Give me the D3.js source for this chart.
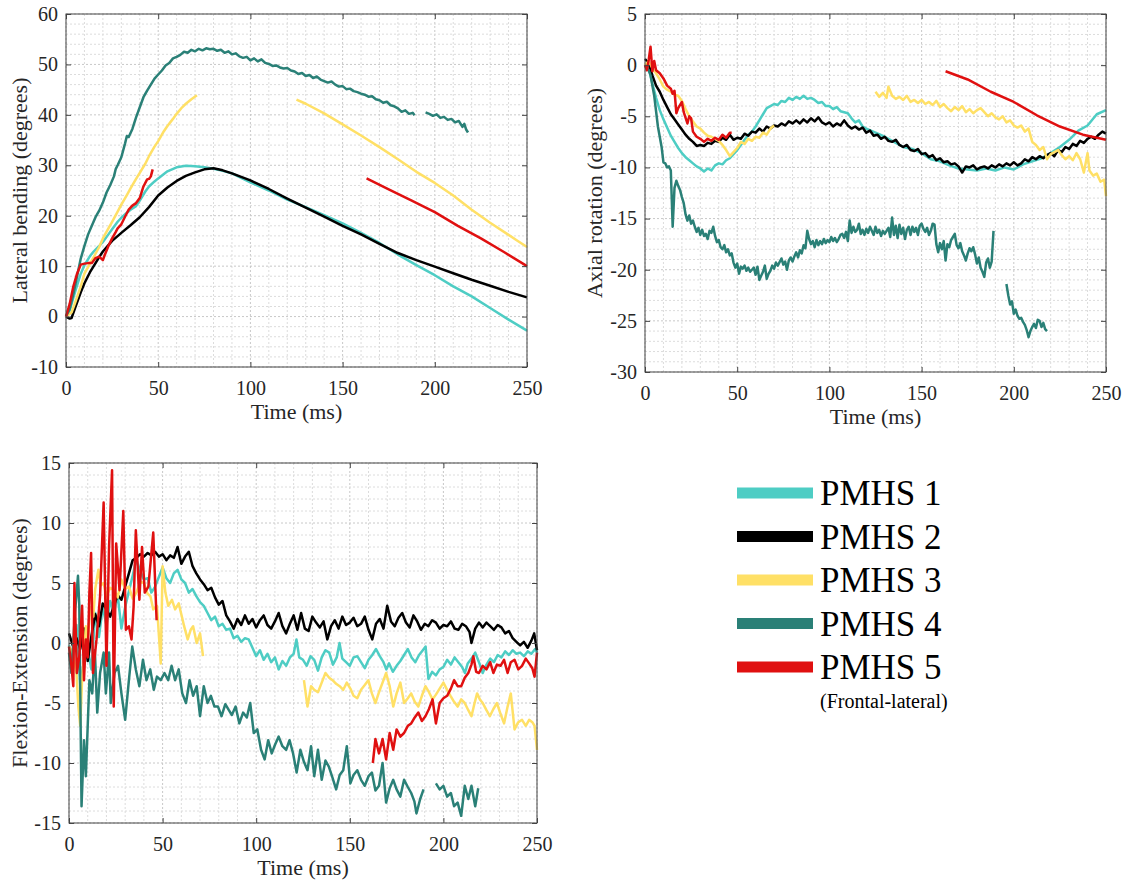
<!DOCTYPE html>
<html>
<head>
<meta charset="utf-8">
<script src="https://cdnjs.cloudflare.com/ajax/libs/d3/7.8.5/d3.min.js"></script>
<style>
  body { margin: 0; background: #fff; }
  svg { display: block; font-family: "Liberation Serif", "Times New Roman", serif; }
</style>
</head>
<body>
<svg id="chart" width="1129" height="884"></svg>
<script>
'use strict';

// ---- data (time in ms, angle in degrees; null = gap in the record) ----
const names = ['PMHS 1', 'PMHS 2', 'PMHS 3', 'PMHS 4', 'PMHS 5'];
const colors = ['#4ECDC4', '#000000', '#FFE066', '#2A8077', '#E01010'];
const timeTicks = [0, 50, 100, 150, 200, 250];

// Lateral bending
const lat1 = [[0,0],[2,1.2],[5,5],[8,8.5],[10,10.2],[13,12],[15,12.9],[18,14],[20,14.8],[23,16.3],[25,17.3],[28,18.8],[30,19.6],[33,20.6],[35,21.2],[38,21.9],[40,23],[43,24.8],[45,25.8],[48,26.8],[50,27.4],[55,28.8],[60,29.6],[65,29.9],[70,29.8],[75,29.6],[80,29.3],[85,28.9],[90,28.4],[95,27.5],[100,26.6],[110,25],[120,23.2],[130,21.7],[140,20.1],[150,18.5],[160,16.6],[170,14.6],[180,12.3],[190,10.2],[200,8.2],[210,6],[220,4],[230,1.7],[240,-0.6],[250,-2.8]];
const lat2 = [[0,0],[1,-0.2],[2,-0.4],[3,-0.3],[5,1.8],[8,4.8],[10,6.6],[13,8.8],[15,10],[18,11.8],[20,12.9],[25,15],[30,16.6],[35,18.1],[40,19.7],[45,21.7],[50,24],[55,25.6],[60,26.9],[65,27.9],[70,28.6],[75,29.2],[80,29.4],[85,29],[90,28.4],[95,27.7],[100,27],[110,25.3],[120,23.4],[130,21.6],[140,19.8],[150,18],[160,16.3],[170,14.4],[180,12.6],[190,11.2],[200,9.9],[210,8.6],[220,7.3],[230,6.1],[240,4.9],[250,3.8]];
const lat3 = [[0,0],[3,0.8],[5,2.8],[8,6],[10,8.5],[13,10.5],[15,11.8],[18,13.8],[20,15.5],[23,17.5],[25,18.8],[28,20.8],[30,22.2],[33,24.1],[35,25.4],[38,27.3],[40,28.5],[43,30.3],[45,31.8],[48,33.7],[50,34.8],[53,36.7],[55,37.8],[58,39.2],[60,40.2],[63,41.5],[65,42.2],[68,43.1],[71,43.9],[null,null],[125,43],[130,42.2],[140,40.3],[150,38.1],[160,35.9],[170,33.6],[180,31.2],[190,28.7],[200,26.5],[210,24],[220,21.2],[230,18.6],[240,16.2],[245,15],[250,13.8]];
const lat4 = [[0,0],[2,1.5],[4,4.5],[6,8],[8,11.5],[10,14],[12,16.3],[14,18],[16,19.7],[18,21],[20,22.6],[22,24.6],[24,26.1],[26,27.8],[27,29.3],[28,30],[30,31.6],[32,34.3],[33,35.8],[34,35.6],[36,37.2],[38,39.5],[40,41.5],[42,43.5],[44,44.8],[46,46],[48,47.2],[50,48],[52,48.8],[54,49.8],[56,50.3],[58,51.2],[60,51.5],[62,51.9],[64,52.5],[66,52.3],[68,52.9],[70,52.6],[72,53.1],[74,52.8],[76,53.2],[78,53],[80,53.1],[82,52.7],[84,52.9],[86,52.3],[88,52.6],[90,52],[92,52.2],[94,51.6],[96,51.3],[98,51.5],[100,50.8],[102,51.2],[104,50.6],[106,51],[108,50.3],[110,50.1],[112,49.7],[114,49.8],[116,49.4],[118,49.2],[120,49.3],[122,48.8],[124,48.6],[126,48.1],[128,48.3],[130,47.7],[132,47.9],[134,47.3],[136,47.6],[138,47],[140,46.7],[142,46.4],[144,46.6],[146,46],[148,45.6],[150,45.7],[152,45.1],[154,45.2],[156,44.7],[158,44.5],[160,44.2],[162,44],[164,43.6],[166,43.7],[168,43.1],[170,42.9],[172,42.4],[174,42.6],[176,41.9],[178,41.7],[180,41.3],[182,40.6],[184,40.9],[186,40.2],[188,40.4],[189,39.9],[null,null],[195,40.5],[197,40.2],[199,39.8],[201,40.1],[203,39.4],[205,39.6],[207,39],[209,39.2],[211,38.5],[213,38.8],[215,37.6],[216,38.2],[217,37.1],[218,36.5]];
const lat5 = [[0,0],[2,2.5],[4,6],[6,8.5],[8,10.3],[10,10.5],[12,10.6],[14,10.6],[16,11.6],[18,11.9],[20,11.2],[21,12.2],[23,14],[25,15.5],[27,16.8],[28,17.5],[30,18.3],[32,19.8],[34,21.2],[36,22],[38,22.5],[40,23.5],[42,25.8],[44,27.2],[45,27.3],[46,27.8],[47,29.2],[null,null],[163,27.4],[175,25.2],[187.5,23],[200,20.7],[212.5,18],[225,15.5],[237.5,12.8],[250,10]];

// Axial rotation
const rot1 = [[0,0],[2,-0.2],[4,-1.8],[6,-3.2],[8,-4.4],[10,-5.3],[12,-6.1],[14,-6.9],[16,-7.5],[18,-8.1],[20,-8.6],[22,-9],[24,-9.3],[26,-9.6],[28,-9.9],[30,-10.1],[32,-10.4],[34,-10.1],[36,-10.3],[38,-9.8],[40,-9.6],[42,-9.7],[44,-9.3],[46,-9.1],[48,-8.7],[50,-8.3],[52,-7.8],[54,-7.3],[56,-6.8],[58,-6.5],[60,-6],[62,-5.4],[64,-4.8],[66,-4.2],[68,-4],[70,-3.8],[72,-3.9],[74,-3.5],[76,-3.6],[78,-3.2],[80,-3.4],[82,-3.1],[84,-3.3],[86,-3],[88,-3.3],[90,-3.2],[92,-3.4],[94,-3.7],[96,-3.6],[98,-4],[100,-4],[102,-4.3],[104,-4.1],[106,-4.5],[108,-4.6],[110,-4.7],[112,-5.2],[114,-5.6],[116,-5.4],[118,-6],[120,-6.2],[125,-6.6],[130,-7],[135,-7.5],[140,-8],[145,-8.2],[150,-8.6],[155,-9.2],[160,-9.4],[165,-9.8],[170,-10.1],[175,-10.2],[180,-10.3],[185,-10.1],[190,-10.3],[195,-10],[200,-10.2],[205,-9.7],[210,-9.4],[215,-9.1],[220,-8.6],[225,-8],[230,-7.3],[235,-6.4],[240,-5.9],[245,-4.8],[250,-4.4]];
const rot2 = [[0,0.6],[2,0.2],[4,-1],[6,-2],[8,-2.6],[10,-3.4],[12,-4.1],[14,-4.8],[16,-5.3],[18,-5.8],[20,-6.3],[22,-6.8],[24,-7.2],[26,-7.5],[28,-7.9],[30,-7.8],[32,-7.9],[34,-7.6],[36,-7.7],[38,-7.4],[40,-7.5],[42,-7.1],[44,-7.3],[46,-6.8],[48,-7.3],[50,-7.1],[52,-7.2],[54,-6.7],[56,-6.9],[58,-6.5],[60,-6.6],[62,-6.2],[64,-6.5],[66,-6],[68,-6.2],[70,-5.9],[72,-6],[74,-5.7],[76,-5.9],[78,-5.5],[80,-5.7],[82,-5.4],[84,-5.7],[86,-5.3],[88,-5.6],[90,-5.2],[92,-5.5],[94,-5.1],[96,-5.6],[98,-5.8],[100,-5.6],[102,-6],[104,-5.7],[106,-5.9],[108,-5.4],[110,-5.9],[112,-6.2],[114,-6],[116,-6.3],[118,-6.1],[120,-6.6],[122,-6.4],[124,-6.9],[126,-6.8],[128,-7.2],[130,-7],[132,-7.4],[134,-7.5],[136,-7.3],[138,-7.8],[140,-8],[142,-7.8],[144,-8.3],[146,-8.4],[148,-8.2],[150,-8.7],[152,-8.6],[154,-9],[156,-8.8],[158,-9.3],[160,-9.1],[162,-9.5],[164,-9.4],[166,-9.7],[168,-9.6],[170,-9.9],[172,-10.5],[174,-9.9],[176,-10],[178,-9.8],[180,-10.2],[182,-10],[184,-9.9],[186,-10.1],[188,-9.8],[190,-10],[192,-9.7],[194,-9.9],[196,-9.6],[198,-9.8],[200,-9.5],[202,-9.8],[204,-9.6],[206,-9.2],[208,-9.4],[210,-9],[212,-9.2],[214,-8.9],[216,-9.1],[218,-8.8],[220,-8.6],[222,-8.9],[224,-8.3],[226,-8.5],[228,-8],[230,-8.2],[232,-7.7],[234,-7.9],[236,-7.4],[238,-7.6],[240,-7.2],[242,-7],[244,-7.2],[246,-6.8],[248,-6.5],[250,-6.7]];
const rot3 = [[0,0],[2,0.4],[4,-0.3],[6,-0.8],[8,-1.4],[10,-2.1],[12,-2.4],[14,-2.6],[16,-2.9],[18,-3],[20,-3.5],[22,-4.3],[24,-5],[26,-5.5],[28,-6],[30,-6.2],[32,-6.6],[34,-6.9],[36,-7],[38,-7.2],[40,-7.4],[42,-7.8],[44,-8.3],[46,-8.9],[48,-8.5],[50,-8.1],[52,-7.5],[54,-7.7],[56,-7.2],[58,-7.4],[60,-7],[62,-7.1],[64,-6.6],[66,-6.8],[68,-6.2],[70,-5.9],[null,null],[125,-2.6],[127,-3.1],[129,-2.7],[131,-3.2],[132,-2.1],[134,-3],[136,-3.3],[138,-3.1],[140,-3.4],[142,-3],[144,-3.6],[146,-3.4],[148,-3.7],[150,-3.4],[152,-3.8],[154,-3.6],[156,-3.9],[158,-3.5],[160,-4.1],[162,-3.8],[164,-4.2],[166,-4.5],[168,-4.1],[170,-4.4],[172,-4],[174,-4.6],[176,-4.3],[178,-4.7],[180,-4.4],[182,-4.2],[184,-4.6],[186,-5],[188,-4.7],[190,-5.1],[192,-5.3],[194,-5],[196,-5.6],[198,-5.4],[200,-5.9],[202,-6.1],[204,-5.9],[206,-6.5],[208,-6.2],[210,-7.5],[212,-7.8],[214,-8.3],[216,-8],[218,-9.2],[220,-8.7],[222,-8.5],[224,-8.3],[226,-8.8],[228,-9.2],[230,-8.9],[232,-9.3],[234,-8.6],[236,-9.2],[238,-10.5],[240,-8.6],[241,-10.3],[243,-10.8],[245,-10.6],[247,-11.4],[249,-11.2],[250,-12.8]];
const rot4 = [[0,0],[2,-0.5],[3,-1],[5,-3],[7,-6],[9,-8],[10,-9.5],[11,-9.6],[12,-10],[13,-9.9],[14,-10.3],[15,-15.8],[16,-12],[17,-11.3],[18,-11.8],[19,-12.2],[20,-12.9],[21,-13.5],[22,-14.6],[23,-15.2],[24,-14.7],[25,-15.5],[26,-15.2],[27,-15.8],[28,-16.3],[29,-15.9],[30,-16.6],[31,-16.1],[32,-16.7],[33,-16.5],[34,-17],[35,-16.2],[36,-16.4],[37,-15.8],[38,-16.7],[39,-17.3],[40,-17.1],[41,-17.8],[42,-18],[43,-17.6],[44,-18.3],[45,-18],[46,-18.6],[47,-18.4],[48,-19.3],[49,-19.8],[50,-19.4],[51,-20.4],[52,-19.7],[53,-19.9],[54,-19.6],[55,-20.1],[56,-19.8],[57,-20.2],[58,-20],[59,-19.8],[60,-20.5],[61,-19.7],[62,-21],[63,-20.6],[64,-20.2],[65,-19.6],[66,-20.9],[67,-20.4],[68,-20.1],[69,-19.6],[70,-19.9],[71,-19.3],[72,-19.6],[74,-18.9],[75,-19.5],[76,-19.2],[77,-20],[78,-19.1],[79,-18.8],[80,-19.2],[81,-18.7],[82,-18.3],[83,-18.8],[84,-18.1],[85,-18.4],[86,-17.6],[87,-17.9],[88,-16.2],[89,-17],[90,-17.5],[91,-17.2],[92,-17.8],[93,-17.1],[94,-17.6],[95,-17.2],[96,-17.5],[97,-17],[98,-17.4],[99,-17.1],[100,-17.3],[101,-16.8],[102,-17.2],[103,-16.9],[104,-17.3],[105,-17],[106,-16.6],[107,-16.5],[108,-16.9],[109,-16.3],[110,-17.2],[111,-15.2],[112,-16.4],[113,-15.8],[114,-16.3],[115,-16.1],[116,-15.5],[117,-16.5],[118,-16.1],[119,-16.6],[120,-16],[121,-16.4],[122,-15.8],[123,-16.2],[124,-16.6],[125,-15.8],[126,-16.4],[127,-16.1],[128,-16.7],[129,-16.2],[130,-16.5],[131,-16.2],[132,-15.9],[133,-16.8],[134,-14.9],[135,-16.6],[136,-15.7],[137,-16.9],[138,-15.6],[139,-16.5],[140,-15.9],[141,-17],[142,-16.1],[143,-15.8],[144,-16.6],[145,-15.8],[146,-16.3],[147,-15.9],[148,-16.6],[149,-15.7],[150,-15.5],[151,-16],[152,-16.3],[153,-15.9],[154,-16.6],[155,-16.2],[156,-15.5],[157,-15.6],[158,-17.5],[159,-18.3],[160,-17.4],[161,-18],[162,-17.2],[163,-19.1],[164,-17.5],[165,-17.8],[166,-17.1],[167,-16.8],[168,-16.5],[169,-17.6],[170,-17.9],[171,-17.4],[172,-18.2],[173,-18.6],[174,-19.1],[175,-18.4],[176,-17.9],[177,-18.2],[178,-17.8],[179,-18.5],[180,-19.4],[181,-18.8],[182,-19.8],[183,-20.2],[184,-20.7],[185,-19.3],[186,-18.9],[187,-19.8],[188,-19.2],[189,-16.2],[null,null],[196,-21.4],[197,-22.5],[198,-23.4],[199,-23.1],[200,-24.3],[201,-23.9],[202,-24.5],[203,-24.8],[204,-24.7],[205,-25.1],[206,-25.4],[207,-25.9],[208,-26.6],[209,-26],[210,-25.6],[211,-25.3],[212,-25.7],[213,-24.9],[214,-25],[215,-25.6],[216,-25.2],[217,-25.8],[218,-26]];
const rot5 = [[0,0],[1,-0.5],[2,0.5],[3,1.8],[4,-0.6],[5,0.4],[6,-0.5],[8,-0.8],[10,-1.3],[12,-2],[14,-2.3],[15,-2.8],[16,-2.5],[17,-4.7],[18,-4.2],[20,-3.6],[21,-4.6],[23,-5.7],[24,-5],[25,-5.2],[26,-6.5],[28,-7],[30,-7.2],[32,-7.5],[34,-7.2],[36,-7.4],[38,-7.1],[40,-7.3],[42,-6.8],[44,-7.1],[46,-6.6],[47,-6.6],[null,null],[163,-0.6],[175,-1.4],[187.5,-2.6],[200,-3.6],[212.5,-4.9],[225,-6],[237.5,-6.8],[250,-7.3]];

// Flexion-Extension
const fe1 = [[0,-0.2],[2,-1.3],[4,1.5],[6,-3.5],[8,-1.5],[10,-0.5],[12,-2.2],[14,2.5],[16,0.5],[18,3],[20,1.5],[22,3.5],[24,2.5],[26,4],[28,1.2],[30,3],[32,4.3],[34,5.6],[36,7],[38,6],[40,5.3],[42,5.4],[44,4.2],[46,4.7],[48,5.5],[50,6.3],[52,5.4],[54,5],[56,5.8],[58,6.1],[60,5.3],[62,5],[64,4.2],[66,4.5],[68,3.9],[70,3.4],[72,3.1],[74,2.5],[76,1.9],[78,2.2],[80,1.4],[82,1.6],[84,1.1],[86,1.2],[88,0.4],[90,0.6],[92,0.1],[94,0.4],[96,0.3],[98,-0.4],[100,-1.1],[102,-0.6],[104,-1.4],[106,-0.9],[108,-1.6],[110,-1.2],[112,-2.2],[114,-1.5],[116,-1.9],[118,-1.2],[120,-0.9],[121.5,0.3],[123,-1.2],[125,-1.4],[127,-1.9],[129,-1.1],[131,-1.4],[133,-2.3],[135,-1.2],[137,-0.6],[139,-0.8],[141,-1.8],[143,-1.2],[144.5,0],[146,-1.3],[148,-1.6],[150,-1.9],[152,-1.2],[154,-1.1],[156,-1.6],[158,-2.1],[160,-1.4],[162,-1],[164,-0.5],[166,-1.1],[168,-1.6],[169.5,-2.2],[171,-1.7],[173,-2.4],[175,-1.9],[177,-1.5],[179,-1],[181,-0.5],[183,-1.2],[185,-1.6],[187,-1],[189,-0.6],[190.5,-0.3],[192,-3],[194,-2.4],[196,-2.7],[198,-2.2],[200,-2],[202,-1.4],[204,-1.8],[206,-1.2],[208,-1.6],[210,-2],[211.5,-2.5],[213,-1.7],[215,-1.3],[217,-0.8],[219,-1.6],[221,-2.5],[223,-1.8],[225,-1.3],[227,-1.6],[229,-1],[231,-1.2],[233,-0.7],[235,-1],[237,-0.6],[239,-0.9],[241,-0.8],[243,-1.1],[245,-0.7],[247,-0.9],[249,-0.5],[250,-0.8]];
const fe2 = [[0,0.8],[2,-0.2],[4,0.4],[6,-0.5],[8,1.2],[10,-1.5],[12,0.6],[14,2.4],[16,1.4],[18,3.3],[20,2.8],[22,2.2],[24,3.1],[26,4],[28,3.6],[30,4.7],[32,5.8],[34,6.9],[36,7.1],[38,7.4],[40,7.2],[42,7.5],[44,7.3],[46,7.6],[48,7.2],[50,7.4],[52,6.9],[54,7.3],[56,7.1],[58,8],[60,6.6],[62,7.2],[64,7.6],[66,6.4],[68,5.8],[70,5.3],[72,4.9],[74,4.4],[76,4.6],[78,3.8],[80,3.2],[82,3.5],[84,2.3],[86,1.8],[88,1.2],[90,2],[92,1.5],[94,2.3],[96,1.6],[98,2],[100,1.3],[102,1.9],[104,2.3],[106,1.5],[108,1.2],[110,1.8],[112,2.5],[114,1.4],[116,0.8],[118,1.6],[120,2.3],[122,1.1],[124,2.5],[126,1.2],[128,1],[130,2.2],[132,1.7],[134,1.3],[136,1.8],[138,0.3],[140,1.4],[142,1.9],[144,1.2],[146,2.2],[148,1.5],[150,1.7],[152,2.1],[154,1.4],[156,1.6],[158,2.2],[160,1.1],[162,0.3],[164,1.6],[166,2],[168,1.2],[170,3.1],[172,1.8],[174,1.4],[176,2.1],[178,2.5],[180,1.7],[182,1.3],[184,2.3],[186,1.8],[188,1.1],[190,1.6],[192,1.4],[194,1.9],[196,1.7],[198,1.2],[200,1.5],[202,1.4],[204,1.8],[206,1.2],[208,1.1],[210,1.6],[212,1.4],[214,0.9],[215,0],[217,1.2],[219,1.7],[221,1.3],[223,1.7],[225,1.4],[227,1.1],[229,1.5],[231,1.3],[233,0.8],[235,1],[237,0.4],[239,0.1],[241,-0.2],[243,0.1],[245,-0.4],[247,0.2],[248.5,0.8],[250,-0.6]];
const fe3 = [[0,-0.3],[2,-0.8],[4,-2.5],[5,-5.3],[6,-6.9],[7,-3],[8,-1.2],[9,1.4],[10,0.5],[11,2.2],[12,3],[13,2.2],[14,4.5],[15.7,6.1],[17,4.8],[18.5,5],[20,3.9],[22,4.6],[24,4.4],[26,3.8],[28,5.3],[30,4.5],[32,4.7],[34,3.7],[36,4.2],[38,5.1],[40,5],[42,4.1],[43.5,3.9],[45,2.8],[47,3.1],[49,-1.7],[50,6.4],[51.5,4.2],[53,3.1],[55,3.6],[56.7,2.8],[58.6,3.3],[60,2.4],[61.5,1.4],[63.4,0.3],[65,1.1],[66.3,1.4],[68.2,0],[70,0.8],[71.6,-1.1],[null,null],[125.5,-3.1],[127.4,-5.3],[129.3,-3.6],[131,-3.9],[133,-4.1],[135,-3.3],[137,-2.5],[139,-2.9],[140.8,-3.1],[142.7,-3.4],[144.6,-3.6],[146.5,-3.9],[148.4,-3.3],[150.3,-3.8],[152,-4.4],[154,-4.6],[156,-3.9],[158,-3.5],[159.9,-3.1],[161.8,-4.2],[163.7,-5],[165.6,-4.1],[167.5,-3.3],[169.4,-2.5],[171.3,-3.6],[173.2,-5.3],[175,-4.2],[177,-3.3],[179,-5],[181,-4.6],[182.8,-4.2],[184.7,-4.9],[186.6,-5.3],[188.5,-4.4],[190.4,-3.6],[192.3,-4.1],[194.2,-4.7],[196,-4.3],[198,-3.8],[200,-3.3],[202,-3.9],[203.8,-4.4],[205.7,-4.9],[207.6,-5.3],[209.5,-4.7],[211.4,-5],[213.3,-5.6],[215,-6.1],[216.5,-5.1],[218,-4.2],[219.5,-4.7],[221,-5],[223,-5.6],[224.8,-6.1],[226.7,-5.5],[228.6,-5],[230.5,-5.9],[232.4,-6.7],[234.3,-5.3],[236,-4.2],[238,-7.2],[240,-6.6],[242,-6.4],[244,-6.9],[245.8,-6.4],[247.5,-6.6],[248.7,-6.9],[250,-8.9]];
const fe4 = [[0,-0.8],[1.3,-2.5],[3.2,2.5],[4.8,5.6],[5.5,3.1],[6.7,-13.6],[8,-8.1],[9,-11.1],[10.9,-3.1],[12.4,-4.2],[13.8,-0.6],[15.1,-5.8],[16.6,-2.5],[18.5,-0.8],[19.7,-4.2],[21.4,-0.8],[22.3,-5],[24.3,-2.5],[26.2,-1.9],[28,-4.2],[30,-6.4],[32,-3.1],[33.8,-0.3],[35.7,-2.2],[37.6,-3.6],[39.5,-1.4],[41.4,-3.1],[43.4,-2.2],[45.3,-3.9],[47,-2.8],[49,-3.1],[51,-2.5],[53,-3.1],[54.8,-1.9],[56.7,-3.1],[58.6,-2.2],[60.5,-4.2],[62.5,-5],[64.4,-3.1],[66.3,-4.4],[68.2,-3.6],[70,-6.1],[72,-3.6],[74,-5],[75.8,-4.4],[77.7,-5.3],[79.6,-5.3],[81.5,-6.1],[83.5,-5.1],[85.4,-5.6],[87,-6],[89,-5.3],[91,-6.7],[93,-5.8],[95,-6.2],[96.8,-5],[98.7,-7.5],[100.6,-7.2],[102.6,-8.9],[104.5,-9.7],[106.4,-8.1],[108.3,-9.2],[110,-8.5],[112,-7.8],[114,-8.6],[116,-8.9],[117.8,-8.1],[119.7,-9.2],[121.6,-10.8],[123.6,-8.9],[125.5,-9.9],[127.4,-10.6],[129.3,-8.6],[131,-11.1],[133,-8.9],[135,-11.4],[137,-9.8],[138.8,-10.3],[140.7,-11.2],[142.7,-12.2],[144.6,-11],[146.5,-10.6],[148.4,-8.6],[150.3,-11.7],[152,-11],[154,-10.6],[156,-11.4],[158,-11.9],[160,-11.1],[161.8,-10.8],[163.7,-12.3],[165.6,-11.9],[167.5,-10],[169.4,-13.3],[171.3,-12.1],[173.2,-11.4],[175,-12.2],[177,-12.8],[179,-11.4],[181,-12],[182.8,-12.5],[184.5,-13.2],[185.6,-14.2],[187.6,-13],[189.4,-12.2],[null,null],[196,-11.7],[198,-12.2],[200,-11.9],[202,-12.8],[204,-12.5],[205.7,-13.6],[207.6,-13.3],[209.5,-14.4],[211.4,-11.9],[213.3,-13],[215,-11.9],[217,-13.6],[218.6,-12.1]];
const fe5 = [[0,-0.3],[1.3,-1.9],[2.3,-3.6],[2.9,5],[4.2,-2.5],[5.5,-1.1],[7,3.1],[8,-3.1],[9,0.3],[10,-1.2],[10.9,4.2],[11.8,7.5],[12.8,-2.5],[14.7,0.3],[16.6,3.9],[18.5,11.7],[20,-1.9],[21.4,8],[23,14.4],[23.9,-5.3],[25.2,8.3],[27,4.4],[29,11],[30.4,1.1],[32,1.4],[33.4,0.3],[34.5,3],[35.7,9.4],[37.6,3.6],[39,8],[40.5,4.2],[42.4,4.7],[45,9.2],[46.8,1.9],[null,null],[162.3,-10],[163.7,-8],[165.6,-9.2],[167.5,-8],[169.4,-9.7],[171.3,-7.5],[173.2,-8.9],[175,-7.2],[177,-7.8],[179,-7.5],[181,-6.9],[182.8,-6.7],[184.7,-6.2],[186.6,-5.8],[188.5,-6.5],[190.4,-6.1],[192.3,-5.5],[194.2,-4.7],[196,-6.7],[198,-5],[200,-4.6],[202,-4.4],[204,-3.8],[205.7,-3.1],[207.6,-3.6],[209.5,-3.6],[211.4,-2.9],[213.3,-2.5],[215,-1.8],[216,-1.1],[217.5,-2.4],[219,-2.5],[221,-1.9],[223,-2.2],[225,-1.6],[226.7,-2.5],[228.6,-1.8],[230.5,-1.9],[232.4,-1.4],[234.3,-2.5],[236,-1.6],[238,-1.4],[240,-2.2],[242,-1.9],[244,-1.3],[245.8,-1.7],[247.5,-2.1],[248.7,-2.8],[250,-0.8]];

// ---- layout ----
const panels = [
    {left: 66, right: 527, top: 14, bottom: 367, yMin: -10, yMax: 60, yStep: 10, yMinor: 2,
     title: 'Lateral bending (degrees)', titleX: 27, series: [lat1, lat2, lat3, lat4, lat5]},
    {left: 645, right: 1106, top: 14, bottom: 372, yMin: -30, yMax: 5, yStep: 5, yMinor: 1,
     title: 'Axial rotation (degrees)', titleX: 602, series: [rot1, rot2, rot3, rot4, rot5]},
    {left: 69, right: 537, top: 463, bottom: 823, yMin: -15, yMax: 15, yStep: 5, yMinor: 1,
     title: 'Flexion-Extension (degrees)', titleX: 27, series: [fe1, fe2, fe3, fe4, fe5]}
];

const svg = d3.select('#chart');
const textColor = '#262626';

function drawPanel(p) {
    const x = d3.scaleLinear().domain([0, 250]).range([p.left, p.right]);
    const y = d3.scaleLinear().domain([p.yMin, p.yMax]).range([p.bottom, p.top]);
    const g = svg.append('g');

    // minor + major grid
    const xMinor = d3.range(0, 251, 10);
    const yMinor = d3.range(p.yMin, p.yMax + 0.001, p.yMinor);
    const yMajor = d3.range(p.yMin, p.yMax + 0.001, p.yStep);

    g.selectAll('line.gx').data(xMinor).enter().append('line')
        .attr('x1', d => x(d)).attr('x2', d => x(d))
        .attr('y1', p.top).attr('y2', p.bottom)
        .attr('stroke', d => d % 50 === 0 ? '#c8c8c8' : '#dcdcdc')
        .attr('stroke-width', 1)
        .attr('stroke-dasharray', '2,2');
    g.selectAll('line.gy').data(yMinor).enter().append('line')
        .attr('y1', d => y(d)).attr('y2', d => y(d))
        .attr('x1', p.left).attr('x2', p.right)
        .attr('stroke', d => yMajor.includes(d) ? '#c8c8c8' : '#dcdcdc')
        .attr('stroke-width', 1)
        .attr('stroke-dasharray', '2,2');

    // data lines
    const line = d3.line()
        .defined(d => d[1] !== null)
        .x(d => x(d[0]))
        .y(d => y(d[1]));

    p.series.forEach(function(s, i) {
        g.append('path')
            .datum(s)
            .attr('d', line)
            .attr('fill', 'none')
            .attr('stroke', colors[i])
            .attr('stroke-width', 2.5)
            .attr('stroke-linejoin', 'round');
    });

    // axes (inward ticks on all four sides)
    const fmt = d => String(d);
    const axB = g.append('g').attr('transform', `translate(0,${p.bottom})`)
        .call(d3.axisBottom(x).tickValues(timeTicks).tickSize(-5).tickPadding(14).tickFormat(fmt));
    const axL = g.append('g').attr('transform', `translate(${p.left},0)`)
        .call(d3.axisLeft(y).tickValues(yMajor).tickSize(-5).tickPadding(8).tickFormat(fmt));
    const axT = g.append('g').attr('transform', `translate(0,${p.top})`)
        .call(d3.axisTop(x).tickValues(timeTicks).tickSize(-5).tickFormat(''));
    const axR = g.append('g').attr('transform', `translate(${p.right},0)`)
        .call(d3.axisRight(y).tickValues(yMajor).tickSize(-5).tickFormat(''));

    [axB, axL, axT, axR].forEach(function(a) {
        a.select('.domain').remove();
        a.selectAll('.tick line').attr('stroke', '#444');
        a.selectAll('.tick text')
            .attr('fill', textColor)
            .style('font-size', '20px')
            .style('font-family', '"Liberation Serif", "Times New Roman", serif');
    });

    g.append('rect')
        .attr('x', p.left).attr('y', p.top)
        .attr('width', p.right - p.left).attr('height', p.bottom - p.top)
        .attr('fill', 'none').attr('stroke', '#444').attr('stroke-width', 1);

    // titles
    g.append('text')
        .attr('x', (p.left + p.right) / 2)
        .attr('y', p.bottom + 52)
        .attr('text-anchor', 'middle')
        .attr('fill', textColor)
        .style('font-size', '22px')
        .text('Time (ms)');

    g.append('text')
        .attr('transform', `translate(${p.titleX},${(p.top + p.bottom) / 2}) rotate(-90)`)
        .attr('text-anchor', 'middle')
        .attr('fill', textColor)
        .style('font-size', '22px')
        .text(p.title);
}

panels.forEach(drawPanel);

// ---- legend ----
const legendY = d3.scalePoint().domain(names).range([493, 667]);
const legend = svg.append('g');

legend.selectAll('line').data(names).enter().append('line')
    .attr('x1', 737).attr('x2', 813)
    .attr('y1', d => legendY(d)).attr('y2', d => legendY(d))
    .attr('stroke', (d, i) => colors[i])
    .attr('stroke-width', 11);

legend.selectAll('text.name').data(names).enter().append('text')
    .attr('class', 'name')
    .attr('x', 820)
    .attr('y', d => legendY(d) + 12)
    .attr('fill', '#000')
    .style('font-size', '35px')
    .text(d => d);

legend.append('text')
    .attr('x', 820)
    .attr('y', 708)
    .attr('fill', '#000')
    .style('font-size', '20px')
    .text('(Frontal-lateral)');
</script>
</body>
</html>
